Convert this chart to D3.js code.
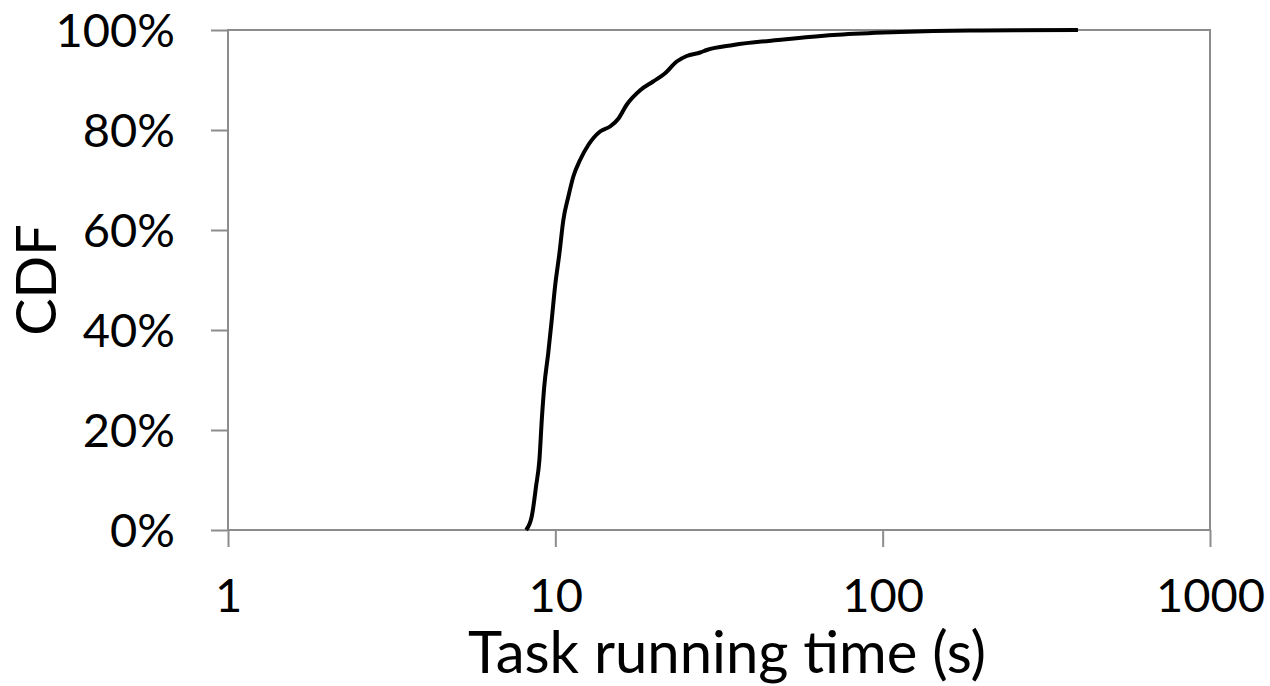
<!DOCTYPE html>
<html>
<head>
<meta charset="utf-8">
<script src="https://d3js.org/d3.v7.min.js"></script>
<style>
  body { margin: 0; background: #fff; }
  text { font-family: Lato, "Open Sans", sans-serif; fill: #000; }
</style>
</head>
<body>
<script>
'use strict';

// task running time (s)
const times = [8.14, 8.47, 8.57, 8.73, 8.94, 9.09, 9.25, 9.51, 9.75, 9.98, 10.29,
  10.58, 10.96, 11.35, 11.9, 12.61, 13.7, 14.7, 15.6, 16.5, 18.2, 19.9, 21.6,
  23.5, 25.2, 27.7, 29.0, 35.0, 49.7, 70.7, 100.5, 143, 200, 395];
// cumulative fraction (%) at each time
const cdf = [0, 2.7, 4.7, 8.7, 14, 22, 28.7, 35.3, 42, 48.7, 55.3,
  62, 66.7, 70.7, 74, 77, 79.7, 80.7, 82.3, 85, 88, 89.7, 91.3,
  93.7, 94.8, 95.5, 96, 97, 98.1, 99, 99.5, 99.8, 99.9, 100];

const xTicks = [1, 10, 100, 1000];
const yTicks = [0, 20, 40, 60, 80, 100];

(function() {

  let svgContainer = "";

  window.onload = function() {
    svgContainer = d3.select('body')
                     .append('svg')
                     .attr('width', 1270)
                     .attr('height', 686);
    let map = drawAxes();
    plotData(map);
    makeLabels();
  }

  // draw frame, ticks and tick labels
  function drawAxes() {
    let xScale = d3.scaleLog()
      .domain([1, 1000])
      .range([228, 1210]);

    let yScale = d3.scaleLinear()
      .domain([0, 100])
      .range([530, 30]);

    // plot area border
    svgContainer.append('rect')
      .attr('x', 228)
      .attr('y', 30)
      .attr('width', 1210 - 228)
      .attr('height', 500)
      .attr('fill', 'none')
      .attr('stroke', '#8c8c8c')
      .attr('stroke-width', 2);

    let xAxis = d3.axisBottom(xScale)
      .tickValues(xTicks)
      .tickFormat(d3.format('d'))
      .tickSize(17)
      .tickPadding(32);
    let gx = svgContainer.append('g')
      .attr('transform', 'translate(0, 530)')
      .call(xAxis);

    let yAxis = d3.axisLeft(yScale)
      .tickValues(yTicks)
      .tickFormat((d) => d + '%')
      .tickSize(17)
      .tickPadding(36);
    let gy = svgContainer.append('g')
      .attr('transform', 'translate(228, 0)')
      .call(yAxis);

    // axis styling
    [gx, gy].forEach((g) => {
      g.select('.domain').remove();
      g.selectAll('.tick line')
        .attr('stroke', '#8c8c8c')
        .attr('stroke-width', 2);
      g.selectAll('.tick text')
        .style('font-size', '47px')
        .style('font-family', 'Lato, sans-serif')
        .attr('fill', '#000');
    });
    gy.selectAll('.tick text').attr('dy', '0.36em');

    return { x: xScale, y: yScale };
  }

  // draw the cdf curve
  function plotData(map) {
    let points = times.map((t, i) => [t, cdf[i]]);
    let line = d3.line()
      .x((d) => map.x(d[0]))
      .y((d) => map.y(d[1]))
      .curve(d3.curveMonotoneX);

    svgContainer.append('path')
      .datum(points)
      .attr('d', line)
      .attr('fill', 'none')
      .attr('stroke', '#000')
      .attr('stroke-width', 4);
  }

  // axis titles
  function makeLabels() {
    svgContainer.append('text')
      .attr('x', 727)
      .attr('y', 673)
      .attr('text-anchor', 'middle')
      .style('font-size', '58px')
      .text('Task running time (s)');

    svgContainer.append('text')
      .attr('transform', 'translate(56, 280)rotate(-90)')
      .attr('text-anchor', 'middle')
      .style('font-size', '56px')
      .text('CDF');
  }

})();
</script>
</body>
</html>
